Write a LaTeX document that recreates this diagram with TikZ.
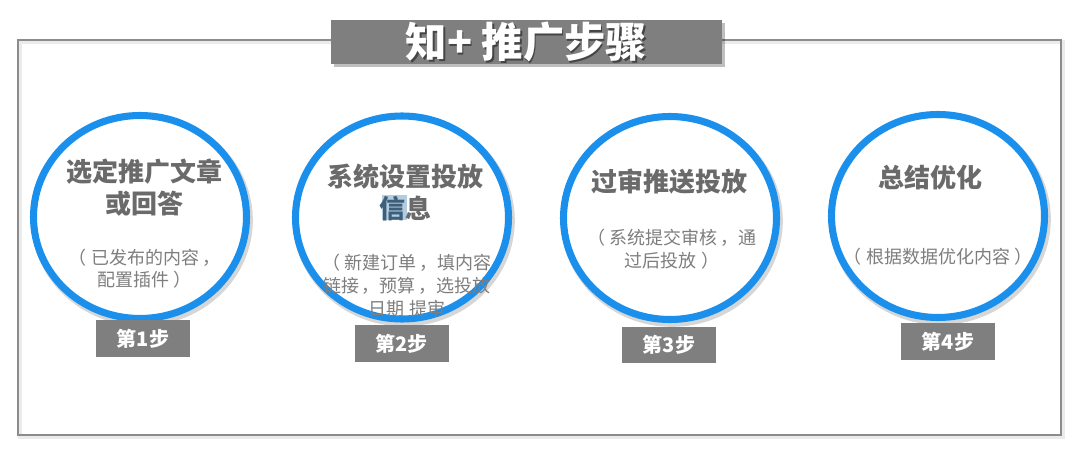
\documentclass[tikz,border=0pt]{standalone}
\usepackage{fontspec}
\setmainfont{Noto Sans CJK SC}
\usetikzlibrary{shapes.geometric}
\definecolor{ringblue}{HTML}{1A8FEC}
\definecolor{boxgray}{HTML}{7F7F7F}
\definecolor{headgray}{HTML}{6A6A6A}
\definecolor{subgray}{HTML}{7E7E7E}
\definecolor{framegray}{HTML}{8C8C8C}
\definecolor{hlblue}{HTML}{B3CCE0}
\definecolor{hltext}{HTML}{3E5F7A}
\newcommand{\lp}{（\hspace{0.25em}}
\newcommand{\rp}{\hspace{0.25em}）}
\newcommand{\cm}{\hspace{0.15em}，}
\tikzset{
  ringline/.style={draw=ringblue, line width=5.3pt, fill=white},
  ringshadow/.style={draw=black, opacity=0.16, line width=6.5pt},
  head/.style={font=\bfseries\fontsize{19.5pt}{23.5pt}\selectfont, text=headgray, align=center, inner sep=0pt},
  sub/.style={font=\fontsize{13.5pt}{17pt}\selectfont, text=subgray, align=center, inner sep=0pt},
  stepbox/.style={fill=boxgray, minimum width=70.5pt, minimum height=27.5pt, inner sep=0pt, text=white, font=\bfseries\fontsize{15pt}{18pt}\selectfont},
  titlebox/.style={fill=boxgray, minimum width=293pt, minimum height=33pt, inner sep=0pt},
  titletext/.style={font=\bfseries\fontsize{31pt}{35pt}\selectfont, inner sep=0pt},
}
\begin{document}
\begin{tikzpicture}[x=0.75pt,y=-0.75pt]
\useasboundingbox (0,0) rectangle (1078,456);
\fill[white] (0,0) rectangle (1078,456);
% frame
\draw[black, opacity=0.08, line width=3pt] (20,42) rectangle (1063,437);
\draw[framegray, line width=1.3pt] (18,40) rectangle (1061,435);
% title
\fill[black, opacity=0.25] (334,23) rectangle (725,67);
\node[titlebox] (tbox) at (526.5,42) {};
\node[titletext, text=black, opacity=0.45] (tshadow) at (528,43.5) {知+ 推广步骤};
\node[titletext, text=white] (title) at (526.5,42) {知+ 推广步骤};
% rings
\foreach \cx/\cy/\n in {140/217/1, 402/217.5/2, 670/218/3, 938/216/4}{
  \draw[ringshadow] (\cx+2,\cy+3) ellipse [x radius=106.5, y radius=101.5];
  \draw[ringline] (\cx,\cy) ellipse [x radius=106.5, y radius=101.5];
}
% highlight artifact
\fill[hlblue] (382,195) rectangle (407,220);
% circle 1
\node[head] (h1) at (144,187.5) {选定推广文章\\或回答};
\node[sub] (s1) at (144.5,268.5) {\lp 已发布的内容\cm\\配置插件\rp};
% circle 2
\node[head] (h2) at (405,192.5) {系统设置投放\\\textcolor{hltext}{信}息};
\node[sub] (s2) at (407,285.5) {\lp 新建订单\cm 填内容\\链接\cm 预算\cm 选投放\\日期 提审};
% circle 3
\node[head] (h3) at (669,182) {过审推送投放};
\node[sub] (s3) at (672,249) {\lp 系统提交审核\cm 通\\过后投放\rp};
% circle 4
\node[head] (h4) at (930,178) {总结优化};
\node[sub] (s4) at (938,257) {\lp 根据数据优化内容\rp};
% step boxes
\node[stepbox] (b1) at (143,338.5) {第1步};
\node[stepbox] (b2) at (401.5,343.5) {第2步};
\node[stepbox] (b3) at (669,345) {第3步};
\node[stepbox] (b4) at (948,341.5) {第4步};
\end{tikzpicture}
\end{document}
